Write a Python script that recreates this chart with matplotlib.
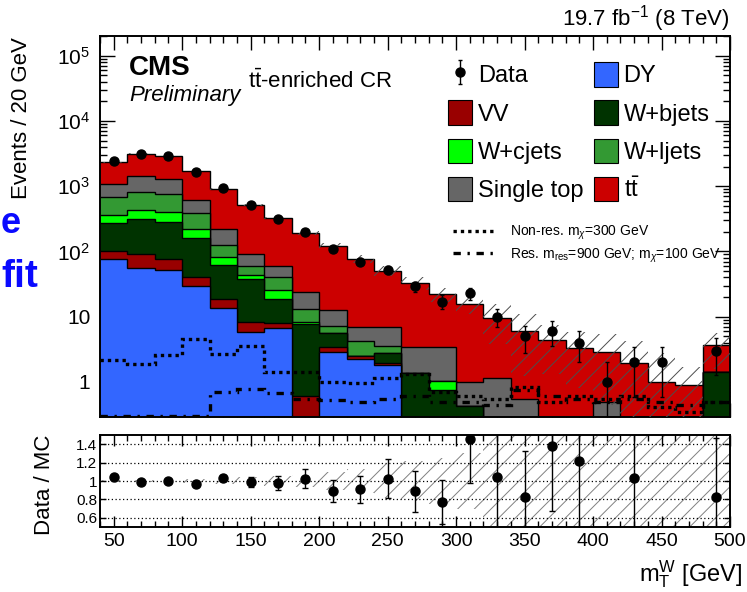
import numpy as np
import matplotlib
matplotlib.use("Agg")
import matplotlib.pyplot as plt
from matplotlib.patches import Patch
from matplotlib.lines import Line2D
from matplotlib.ticker import MultipleLocator, LogLocator, NullFormatter

plt.rcParams['font.family'] = ['Liberation Sans', 'DejaVu Sans']
plt.rcParams['mathtext.fontset'] = 'custom'
plt.rcParams['mathtext.rm'] = 'Liberation Sans'
plt.rcParams['mathtext.it'] = 'Liberation Sans:italic'
plt.rcParams['mathtext.bf'] = 'Liberation Sans:bold'
plt.rcParams['hatch.linewidth'] = 0.7

# ---------------- data ----------------
bin_edges = np.arange(40, 520, 20)          # 40 ... 500 GeV, 23 bins
data_counts = [2420, 3100, 2900, 1620, 945, 515, 318, 200, 108, 70, 52, 29,
               17, 23, 10, 5, 6, 4, 1, 2, 2, 0, 3]
dy_vals = [77, 56, 51, 30, 13.4, 5.8, 6.6, 0, 2.85, 2.25, 1.8, 0,
           0, 0, 0, 0, 0, 0, 0, 0, 0, 0, 0]
vv_vals = [24, 34, 26, 10, 5.1, 2.4, 1.5, 0.6, 0.55, 0.25, 0.13, 0,
           0, 0, 0, 0, 0, 0, 0, 0, 0, 0, 0]
wb_vals = [169, 220, 203, 122, 43, 29.8, 10.6, 7.1, 2.3, 0, 0.82, 1.36,
           0.74, 0.43, 0, 0, 0, 0, 0, 0, 0, 0, 1.4]
wc_vals = [91, 120, 117, 61, 19.4, 5.5, 6.9, 0.7, 0, 0, 0, 0,
           0.3, 0, 0, 0, 0, 0, 0, 0, 0, 0, 0]
wl_vals = [311, 390, 353, 160, 43, 16.5, 15.4, 4.8, 1.4, 1.8, 0.75, 0,
           0, 0, 0, 0, 0, 0, 0, 0, 0, 0, 0]
st_vals = [398, 610, 535, 223, 94, 30, 19, 10.6, 5.4, 2.7, 3.4, 2.04,
           2.36, 0.57, 1.16, 0.55, 0, 0, 0.5, 0, 0, 0, 0]
tt_vals = [1260, 1700, 1615, 1074, 698, 430, 266, 171, 108, 70, 43.8, 29.3,
           18.6, 14.75, 8.44, 5.52, 4.35, 3.28, 2.41, 1.94, 0.98, 0.9, 2.24]
mc_rel_unc = [0.015, 0.015, 0.015, 0.02, 0.03, 0.04, 0.05, 0.07, 0.10, 0.13,
              0.18, 0.22, 0.25, 0.30, 0.60, 0.80, 0.70, 0.75, 0.85, 1.2,
              1.85, 0.9, 0.56]
nonres_sig = [2.2, 1.9, 2.6, 4.5, 2.7, 3.5, 1.4, 1.4, 1.0, 0.95, 1.15, 1.3,
              0.7, 0.6, 0.55, 0.85, 0.5, 0.6, 0.55, 0.6, 0.42, 0.35, 0.5]
res_sig = [0.3, 0.3, 0.3, 0.3, 0.7, 0.77, 0.67, 0.54, 0.53, 0.5, 0.55, 0.6,
           0.5, 0.5, 0.45, 0.75, 0.6, 0.55, 0.5, 0.55, 0.5, 0.45, 0.5]
ratio_err = [0.01, 0.01, 0.01, 0.015, 0.035, 0.055, 0.075, 0.10, 0.12, 0.15,
             0.21, 0.22, 0.24, 0.48, 0.6, 0.5, 0.7, 0.8, 0.9, 1.0, 1.0, 1.0, 0.64]

components = [
    ("DY", dy_vals, "#3366ff"),
    ("VV", vv_vals, "#990000"),
    ("W+bjets", wb_vals, "#003300"),
    ("W+cjets", wc_vals, "#00ff00"),
    ("W+ljets", wl_vals, "#339933"),
    ("Single top", st_vals, "#666666"),
    (r"t$\mathrm{\bar{t}}$", tt_vals, "#cc0000"),
]

# ---------------- figure layout ----------------
W, H = 747, 592
def fx(px): return px / W
def fy(py): return 1 - py / H

fig = plt.figure(figsize=(W / 100, H / 100), dpi=100)
ax = fig.add_axes([fx(100), fy(417), (730 - 100) / W, (417 - 36) / H])
rax = fig.add_axes([fx(100), fy(527), (730 - 100) / W, (527 - 435) / H])

edges = bin_edges
centers = 0.5 * (edges[:-1] + edges[1:])
floor = 1e-3

# stacked histograms
cum = np.full(len(centers), floor)
cums = []
for name, vals, color in components:
    cum = cum + np.asarray(vals, float)
    cums.append(cum.copy())
handles = {}
for (name, vals, color), c in reversed(list(zip(components, cums))):
    ax.stairs(c, edges, baseline=floor, fill=True, color=color, lw=0, zorder=2)
    ax.stairs(c, edges, baseline=None, color='black', lw=1.0, zorder=2)
    handles[name] = Patch(facecolor=color, edgecolor='black', lw=0.8)
total = cums[-1]

# MC uncertainty band
unc = np.asarray(mc_rel_unc)
ax.stairs(total * (1 + unc), edges, baseline=np.maximum(total * (1 - unc), floor),
          fill=True, facecolor='none', edgecolor='0.3', hatch='//', lw=0, zorder=3)

# signals
ax.stairs(nonres_sig, edges, baseline=None, color='black', lw=2.4,
          ls=(0, (1.0, 1.2)), zorder=4)
ax.stairs(res_sig, edges, baseline=None, color='black', lw=2.4,
          ls=(0, (2.2, 2, 0.7, 2)), zorder=4)

# data
d = np.asarray(data_counts, float)
m = d > 0
derr = np.sqrt(d)
dlo = np.minimum(derr, d - 1e-3)
data_h = ax.errorbar(centers[m], d[m], yerr=[dlo[m], derr[m]], fmt='o', color='black',
                     ms=6.5, lw=1.0, capsize=1.5, zorder=5)

ax.set_yscale('log')
ax.set_xlim(40, 500)
ax.set_ylim(0.29, 2.0e5)
ax.set_yticks([1, 10, 100, 1e3, 1e4, 1e5],
              labels=['1', '10', r'$10^{2}$', r'$10^{3}$', r'$10^{4}$', r'$10^{5}$'])
ax.yaxis.set_minor_locator(LogLocator(base=10, subs=np.arange(2, 10)))
ax.yaxis.set_minor_formatter(NullFormatter())
ax.xaxis.set_major_locator(MultipleLocator(50))
ax.xaxis.set_minor_locator(MultipleLocator(10))
ax.tick_params(which='both', direction='in', top=True, right=True,
               labelbottom=False, width=1.0)
ax.tick_params(axis='x', which='major', length=10)
ax.tick_params(axis='x', which='minor', length=5)
ax.tick_params(axis='y', which='major', length=11, labelsize=15, pad=7)
ax.tick_params(axis='y', which='minor', length=5)
for s in ax.spines.values():
    s.set_linewidth(1.4)

# ratio panel
ratio = np.where(d > 0, d / total, np.nan)
rerr = np.asarray(ratio_err)
rm = (d > 0) & (ratio > 0.5) & (ratio < 1.5)
rax.stairs(1 + unc, edges, baseline=1 - unc, fill=True, facecolor='none',
           edgecolor='0.5', hatch='//', lw=0, zorder=1)
for yv in [0.6, 0.8, 1.0, 1.2, 1.4]:
    rax.axhline(yv, color='black', lw=0.9, ls=(0, (1, 2)), zorder=2)
rax.errorbar(centers[rm], ratio[rm], yerr=rerr[rm], fmt='o', color='black',
             ms=6.5, lw=1.0, capsize=2, zorder=5)
rax.set_xlim(40, 500)
rax.set_ylim(0.5, 1.5)
rax.set_yticks([0.6, 0.8, 1.0, 1.2, 1.4], labels=['0.6', '0.8', '1', '1.2', '1.4'])
rax.xaxis.set_major_locator(MultipleLocator(50))
rax.xaxis.set_minor_locator(MultipleLocator(10))
rax.tick_params(which='both', direction='in', top=True, right=True, width=1.0)
rax.tick_params(axis='x', which='major', length=8, labelsize=14, pad=4)
rax.tick_params(axis='x', which='minor', length=4)
rax.tick_params(axis='y', which='major', length=4, labelsize=11, pad=2)
rax.tick_params(axis='y', which='minor', length=0)
for s in rax.spines.values():
    s.set_linewidth(1.4)

# texts
fig.text(fx(22), fy(37), 'Events / 20 GeV', rotation=90, ha='center', va='top', fontsize=16)
fig.text(fx(44), fy(435), 'Data / MC', rotation=90, ha='center', va='top', fontsize=16)
fig.text(fx(742), fy(590), r'm$_{\mathrm{T}}^{\mathrm{W}}$ [GeV]', ha='right', va='bottom', fontsize=17)
fig.text(fx(730), fy(26), r'19.7 fb$^{-1}$ (8 TeV)', ha='right', va='baseline', fontsize=16)
fig.text(fx(129), fy(75), 'CMS', ha='left', va='baseline', fontsize=20, fontweight='bold')
fig.text(fx(129), fy(101), 'Preliminary', ha='left', va='baseline', fontsize=16, style='italic')
fig.text(fx(248), fy(88), r't$\mathrm{\bar{t}}$-enriched CR', ha='left', va='baseline', fontsize=16)
fig.text(fx(1), fy(233), 'e', ha='left', va='baseline', fontsize=26, fontweight='bold', color='#0a0aff')
fig.text(fx(1), fy(287), 'fit', ha='left', va='baseline', fontsize=28, fontweight='bold', color='#0a0aff')

# legends
fs = 17
fspx = fs * 100 / 72
order = [("Data", data_h), ("VV", handles["VV"]), ("W+cjets", handles["W+cjets"]),
         ("Single top", handles["Single top"]), ("DY", handles["DY"]),
         ("W+bjets", handles["W+bjets"]), ("W+ljets", handles["W+ljets"]),
         (r"t$\mathrm{\bar{t}}$", handles[r"t$\mathrm{\bar{t}}$"])]
leg1 = ax.legend([h for _, h in order], [l for l, _ in order], ncol=2,
                 loc='upper left', bbox_to_anchor=(fx(448), fy(62)),
                 bbox_transform=fig.transFigure, frameon=False, fontsize=fs,
                 borderpad=0, borderaxespad=0, handlelength=24 / fspx,
                 handleheight=29 / fspx, labelspacing=13 / fspx,
                 handletextpad=6 / fspx, columnspacing=10 / fspx)
ax.add_artist(leg1)
fs2 = 10
fs2px = fs2 * 100 / 72
lh = [Line2D([], [], color='black', lw=2.4, ls=(0, (1.0, 1.2))),
      Line2D([], [], color='black', lw=2.4, ls=(0, (2.2, 2, 0.7, 2)))]
leg2 = ax.legend(lh, [r'Non-res. m$_{\chi}$=300 GeV',
                      r'Res. m$_{\mathrm{res}}$=900 GeV; m$_{\chi}$=100 GeV'],
                 loc='upper left', bbox_to_anchor=(fx(453), fy(224)),
                 bbox_transform=fig.transFigure, frameon=False, fontsize=fs2,
                 borderpad=0, borderaxespad=0, handlelength=44 / fs2px,
                 labelspacing=4 / fs2px, handletextpad=13 / fs2px)

fig.savefig('out.png', dpi=100)
